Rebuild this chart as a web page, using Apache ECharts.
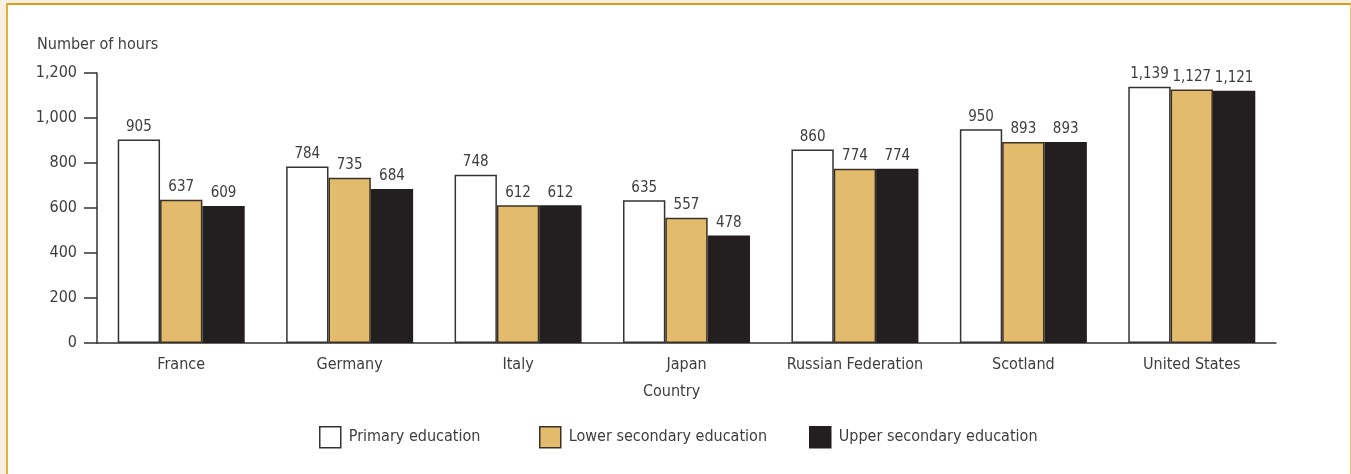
<!DOCTYPE html>
<html>
<head>
<meta charset="utf-8">
<script src="https://cdn.jsdelivr.net/npm/echarts@6/dist/echarts.min.js"></script>
<style>
  html, body { margin: 0; padding: 0; width: 1351px; height: 474px; overflow: hidden; background: #f8efe3; }
  #panel { position: absolute; left: 6px; top: 3px; width: 1342px; height: 480px; background: #fff;
           border-left: 2px solid #e2b03a; border-top: 2px solid #d9a020; border-right: 1px solid #ebc56c; }
  #chart { position: absolute; left: 0; top: 0; width: 1351px; height: 474px; }
</style>
</head>
<body>
<div id="panel"></div>
<div id="chart"></div>
<script>
const categories = ['France', 'Germany', 'Italy', 'Japan', 'Russian Federation', 'Scotland', 'United States'];
const primary = [905, 784, 748, 635, 860, 950, 1139];
const lowerSecondary = [637, 735, 612, 557, 774, 893, 1127];
const upperSecondary = [609, 684, 612, 478, 774, 893, 1121];
const seriesNames = ['Primary education', 'Lower secondary education', 'Upper secondary education'];
const yTicks = [0, 200, 400, 600, 800, 1000, 1200];

const FONT = '"DejaVu Sans Condensed", "Liberation Sans Narrow", "Roboto", sans-serif';
const TXT = '#3d3d3d';
const fmt = v => Number(v).toLocaleString('en-US');

const chart = echarts.init(document.getElementById('chart'), null, { renderer: 'canvas' });

function barSeries(name, data, color, border) {
  return {
    name: name,
    type: 'bar',
    data: data,
    barGap: '0%',
    barCategoryGap: '24.6%',
    itemStyle: { color: color, borderColor: border, borderWidth: 1.5 },
    label: {
      show: true, position: 'top', distance: 5,
      color: TXT, fontFamily: FONT, fontSize: 15,
      formatter: p => fmt(p.value)
    }
  };
}

function legendAt(left, name) {
  return {
    data: [name], left: left, top: 421, orient: 'horizontal',
    itemWidth: 21, itemHeight: 21, itemGap: 12,
    icon: 'rect', selectedMode: false,
    textStyle: { color: TXT, fontFamily: FONT, fontSize: 16, padding: [0, 0, 0, 3] },
    itemStyle: { borderWidth: 1.5 }
  };
}

chart.setOption({
  animation: false,
  backgroundColor: 'transparent',
  grid: { left: 97, right: 75, top: 73, bottom: 131, containLabel: false },
  legend: [
    legendAt(314, seriesNames[0]),
    legendAt(534, seriesNames[1]),
    legendAt(804, seriesNames[2])
  ],
  xAxis: {
    type: 'category',
    data: categories,
    axisLine: { show: true, lineStyle: { color: '#333', width: 1.5 } },
    axisTick: { show: false },
    axisLabel: { color: TXT, fontFamily: FONT, fontSize: 16, margin: 14, interval: 0 }
  },
  yAxis: {
    type: 'value',
    min: 0, max: 1200, interval: 200,
    axisLine: { show: true, lineStyle: { color: '#333', width: 1.5 } },
    axisTick: { show: true, inside: false, length: 13, lineStyle: { color: '#333', width: 1.5 } },
    axisLabel: { color: TXT, fontFamily: FONT, fontSize: 16, margin: 20, formatter: v => fmt(v) },
    splitLine: { show: false }
  },
  graphic: [
    { type: 'text', left: 37, top: 37, style: { text: 'Number of hours', fill: TXT, font: '16px ' + FONT } },
    { type: 'text', left: 643, top: 384, style: { text: 'Country', fill: TXT, font: '16px ' + FONT } }
  ],
  series: [
    barSeries(seriesNames[0], primary, '#ffffff', '#333333'),
    barSeries(seriesNames[1], lowerSecondary, '#e2bb6d', '#3a3226'),
    barSeries(seriesNames[2], upperSecondary, '#231f20', '#231f20')
  ]
});
</script>
</body>
</html>
